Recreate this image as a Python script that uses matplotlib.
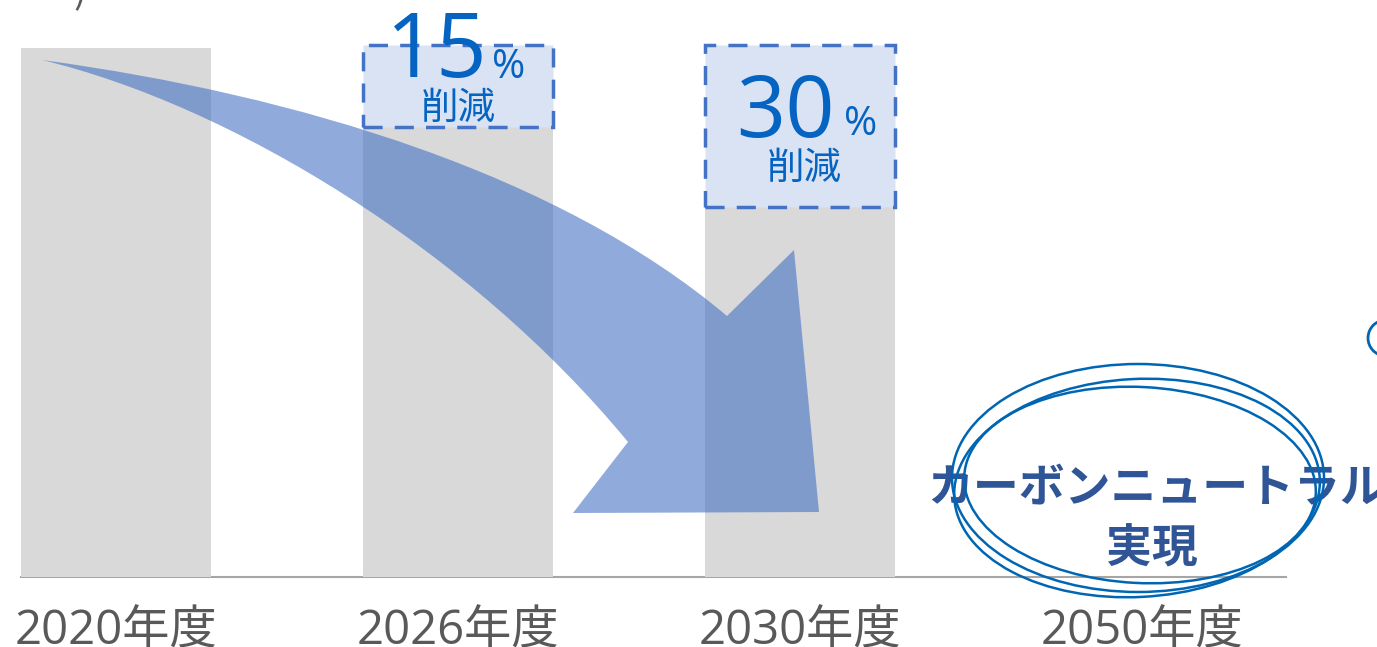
import matplotlib
matplotlib.use("Agg")
import matplotlib.pyplot as plt
import numpy as np
from matplotlib.patches import Rectangle, Ellipse, PathPatch, Circle
from matplotlib.path import Path
from matplotlib.transforms import Affine2D

plt.rcParams['font.family'] = ['Noto Sans CJK JP', 'DejaVu Sans']

# ---- data ----
categories = ["2020年度", "2026年度", "2030年度", "2050年度"]
values = [100, 85, 70, 0]
reduction_labels = ["15", "30"]          # for 2026 / 2030
reduction_unit = "%"
reduction_word = "削減"
goal_line1 = "カーボンニュートラル"
goal_line2 = "実現"

W, H = 1377, 647
fig = plt.figure(figsize=(W / 100, H / 100), dpi=100)
ax = fig.add_axes([0, 0, 1, 1])
ax.set_axis_off()

spacing = 342.0
x0 = 116.0
ax.set_xlim(-x0 / spacing, (W - x0) / spacing)
pxu = 5.29
base = 70.0
ax.set_ylim(-base / pxu, (H - base) / pxu)

# pixel (from top-left) transform
t_px = Affine2D().scale(1 / 100, -1 / 100).translate(0, H / 100) + fig.dpi_scale_trans

x = np.arange(len(categories))
bar_w = 190 / spacing

# baseline
ax.plot([x[0] - bar_w / 2, 3.42], [0, 0], color="#a6a6a6", lw=1.5, zorder=1)

ax.bar(x, values, width=bar_w, color="#d9d9d9", zorder=2)

# curved arrow
verts = [(42, 60), (300, 95), (560, 175), (727, 316),
         (794, 250), (819, 512), (573, 513), (628, 442),
         (470, 250), (230, 105), (42, 60), (42, 60)]
codes = [Path.MOVETO, Path.CURVE4, Path.CURVE4, Path.CURVE4,
         Path.LINETO, Path.LINETO, Path.LINETO, Path.LINETO,
         Path.CURVE4, Path.CURVE4, Path.CURVE4, Path.CLOSEPOLY]
arrow = PathPatch(Path(verts, codes), facecolor="#4472c4", alpha=0.6,
                  edgecolor="none", transform=t_px, zorder=3)
ax.add_patch(arrow)

# reduction boxes
box_top = 100.5
blue_txt = "#0563c1"
for i, lab in zip([1, 2], reduction_labels):
    bw = 190 / spacing
    ax.add_patch(Rectangle((x[i] - bw / 2, values[i]), bw, box_top - values[i],
                           facecolor="#dae3f3", edgecolor="#4472c4", lw=2.5,
                           linestyle=(0, (5.5, 3.5)), zorder=4))

num_font = ['Open Sans', 'Noto Sans CJK JP']
# 15% texts
ax.text(x[1] - 21 / spacing, 94.5, reduction_labels[0], fontsize=64, color=blue_txt,
        family=num_font, ha="center", va="baseline", zorder=5)
ax.text(x[1] + 51 / spacing, 94.3, reduction_unit, fontsize=29, color=blue_txt,
        family=num_font, ha="center", va="baseline", zorder=5)
ax.text(x[1], 88.6, reduction_word, fontsize=27, color=blue_txt,
        ha="center", va="center", zorder=5)
# 30% texts
ax.text(x[2] - 15 / spacing, 83.2, reduction_labels[1], fontsize=62, color=blue_txt,
        family=num_font, ha="center", va="baseline", zorder=5)
ax.text(x[2] + 61 / spacing, 83.6, reduction_unit, fontsize=29, color=blue_txt,
        family=num_font, ha="center", va="baseline", zorder=5)
ax.text(x[2] + 4 / spacing, 77.3, reduction_word, fontsize=27, color=blue_txt,
        ha="center", va="center", zorder=5)

# category labels
for xi, c in zip(x, categories):
    ax.text(xi, -12.6, c, fontsize=34, color="#595959", ha="center", va="baseline",
            family=num_font)

# goal text
ax.text(1157, 489, goal_line1, transform=t_px, fontsize=33, color="#2f5597",
        ha="center", va="center", fontweight="bold", zorder=6)
ax.text(1152, 549, goal_line2, transform=t_px, fontsize=33, color="#2f5597",
        ha="center", va="center", fontweight="bold", zorder=6)

# hand-drawn ellipses
for (cx, cy, ew, eh, ang) in [(1138, 478, 372, 228, 0), (1137, 488, 366, 218, -3),
                              (1140, 485, 352, 196, 3)]:
    ax.add_patch(Ellipse((cx, cy), ew, eh, angle=ang, transform=t_px, fill=False,
                         edgecolor="#0066b3", lw=1.8, zorder=7))

# partial circle at right edge
ax.add_patch(Circle((1386, 338), 18, transform=t_px, fill=False,
                    edgecolor="#0066b3", lw=2, zorder=7))

# cut-off text fragment at top
fig.text(80 / W, 1 - 12 / H, ")", fontsize=28, color="#595959", ha="center", va="bottom")

fig.savefig("out.png", dpi=100)
